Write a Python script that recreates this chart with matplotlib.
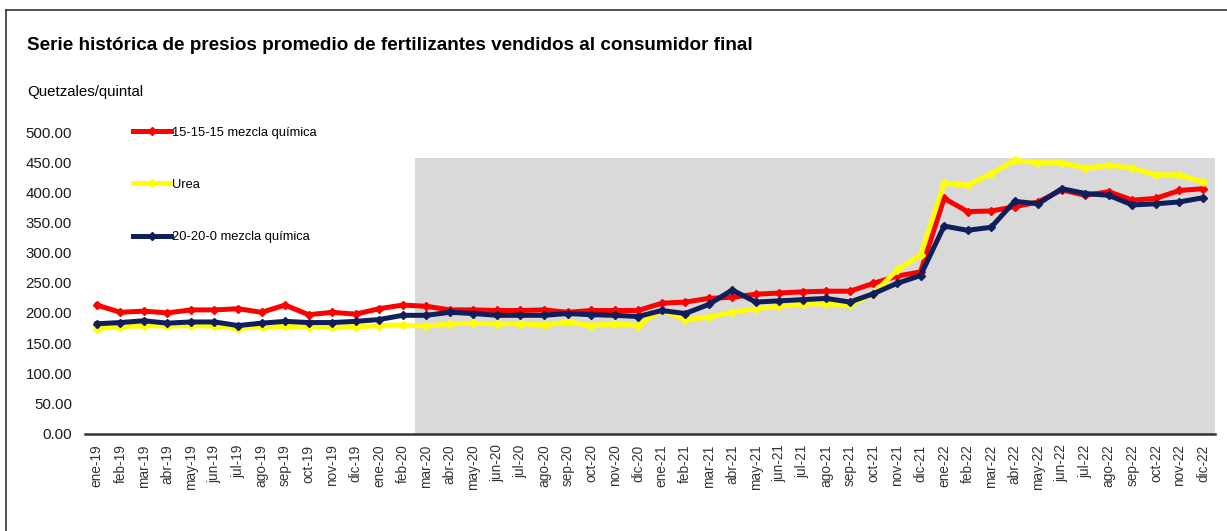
import matplotlib
matplotlib.use('Agg')
import matplotlib.pyplot as plt
from matplotlib.lines import Line2D

plt.rcParams['font.family'] = ['Liberation Sans', 'DejaVu Sans']

# months ene-19 .. dic-22
mes = ['ene', 'feb', 'mar', 'abr', 'may', 'jun', 'jul', 'ago', 'sep', 'oct', 'nov', 'dic']
months = [f'{m}-{y}' for y in ('19', '20', '21', '22') for m in mes]

mezcla_15 = [213, 201, 203, 200, 205, 205, 207, 201, 213, 197, 201, 198,
             207, 213, 211, 205, 205, 204, 204, 205, 201, 204, 204, 204,
             216, 218, 224, 226, 231, 233, 235, 236, 236, 249, 261, 268,
             390, 368, 369, 376, 384, 404, 395, 401, 387, 390, 403, 406]
urea = [174, 177, 179, 178, 179, 178, 174, 177, 178, 177, 177, 177,
        179, 180, 178, 182, 183, 182, 182, 180, 185, 179, 182, 179,
        205, 189, 193, 201, 207, 211, 215, 215, 213, 232, 271, 296,
        415, 412, 431, 453, 449, 449, 440, 445, 440, 429, 429, 417]
mezcla_20 = [182, 184, 187, 183, 185, 185, 179, 183, 186, 184, 184, 186,
             189, 196, 196, 201, 199, 196, 196, 196, 199, 197, 196, 194,
             204, 199, 214, 238, 218, 220, 222, 224, 218, 232, 249, 262,
             344, 337, 342, 385, 381, 406, 398, 395, 379, 381, 384, 391]

series = [
    ('15-15-15 mezcla química', mezcla_15, '#ff0000'),
    ('Urea', urea, '#ffff00'),
    ('20-20-0 mezcla química', mezcla_20, '#0f1f5c'),
]

shade_from = 'mar-20'
shade_top = 457

fig = plt.figure(figsize=(12.27, 5.31), dpi=100)
ax = fig.add_axes([0.0693, 0.1836, 0.9207, 0.5678])

x = list(range(len(months)))
ax.axvspan(months.index(shade_from) - 0.5, len(months) - 0.5,
           ymin=0, ymax=shade_top / 500, color='#d9d9d9', lw=0, zorder=0)

handles = []
for label, vals, col in series:
    ax.plot(x, vals, color=col, lw=3.6, marker='D', markersize=4.5,
            solid_joinstyle='miter', zorder=3)
    handles.append(Line2D([0], [0], color=col, lw=3.6, marker='D', markersize=4.5))

ax.set_xlim(-0.5, len(months) - 0.5)
ax.set_ylim(0, 500)
ax.set_yticks(range(0, 501, 50))
ax.set_yticklabels([f'{v:.2f}' for v in range(0, 501, 50)], fontsize=10.8, color='#1a1a1a')
ax.set_xticks(x)
ax.set_xticklabels(months, rotation=90, fontsize=9.8, color='#333333')
ax.tick_params(axis='both', length=0)
ax.tick_params(axis='x', pad=8)
ax.tick_params(axis='y', pad=9.4)
for s in ('top', 'right', 'left'):
    ax.spines[s].set_visible(False)
ax.spines['bottom'].set_linewidth(1.8)
ax.spines['bottom'].set_color('#333333')
ax.spines['bottom'].set_zorder(5)

leg = ax.legend(handles, [s[0] for s in series], loc='upper left',
                bbox_to_anchor=(0.0425, 1.017), borderaxespad=0, borderpad=0,
                frameon=False, fontsize=9.3, handlelength=2.9, handletextpad=0.1,
                labelspacing=3.1)

fig.text(27 / 1227, 1 - 45 / 531, 'Serie histórica de presios promedio de fertilizantes vendidos al consumidor final',
         fontsize=13.6, fontweight='bold', va='center', ha='left')
fig.text(27 / 1227, 1 - 92 / 531, 'Quetzales/quintal', fontsize=10.8, va='center', ha='left')

# outer frame
fig.add_artist(Line2D([6 / 1227, 1], [1 - 10 / 531, 1 - 10 / 531], color='#333333', lw=1.2))
fig.add_artist(Line2D([6 / 1227, 6 / 1227], [0, 1 - 10 / 531], color='#333333', lw=1.2))

fig.savefig('out.png', dpi=100)
